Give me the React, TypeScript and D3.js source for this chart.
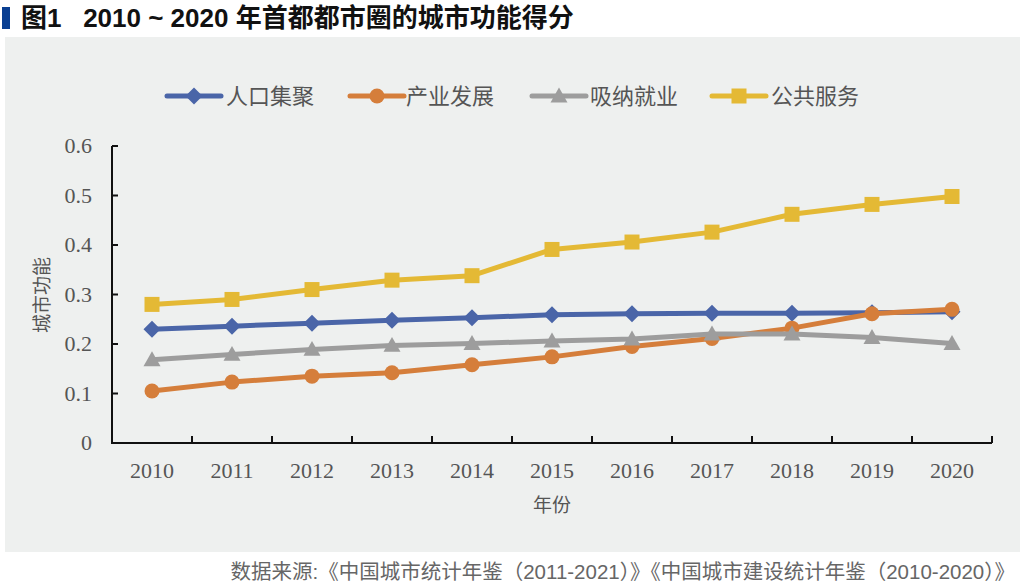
import React from "react";
import * as d3 from "d3";

const years = ["2010", "2011", "2012", "2013", "2014", "2015", "2016", "2017", "2018", "2019", "2020"];
const population = [0.23, 0.236, 0.242, 0.248, 0.253, 0.259, 0.261, 0.262, 0.262, 0.263, 0.265];
const industry = [0.105, 0.123, 0.135, 0.142, 0.158, 0.174, 0.195, 0.211, 0.232, 0.261, 0.27];
const employment = [0.168, 0.179, 0.189, 0.197, 0.201, 0.206, 0.21, 0.22, 0.22, 0.213, 0.201];
const publicService = [0.28, 0.29, 0.31, 0.329, 0.338, 0.391, 0.406, 0.426, 0.462, 0.482, 0.498];
const yTicks = [0, 0.1, 0.2, 0.3, 0.4, 0.5, 0.6];

const seriesNames = ["人口集聚", "产业发展", "吸纳就业", "公共服务"];
const seriesValues = [population, industry, employment, publicService];
const seriesColors = ["#4a65a8", "#d57e3b", "#9d9d9d", "#e4b935"];
const seriesShapes = ["diamond", "circle", "triangle", "square"];

const W = 1024;
const H = 588;

const x = d3.scaleBand<string>().domain(years).range([112, 992]).padding(0);
const y = d3.scaleLinear().domain([0, 0.6]).range([443, 146]);

function Marker({ shape, cx, cy, color }: { shape: string; cx: number; cy: number; color: string }) {
  if (shape === "diamond") {
    const s = 8.5;
    return <path d={`M${cx},${cy - s} L${cx + s},${cy} L${cx},${cy + s} L${cx - s},${cy} Z`} fill={color} />;
  }
  if (shape === "circle") return <circle cx={cx} cy={cy} r={7.5} fill={color} />;
  if (shape === "triangle") {
    const s = 8.5;
    return <path d={`M${cx},${cy - s} L${cx + s},${cy + s * 0.75} L${cx - s},${cy + s * 0.75} Z`} fill={color} />;
  }
  return <rect x={cx - 7.5} y={cy - 7.5} width={15} height={15} fill={color} />;
}

const legendItems = [
  { lineX: 167, textX: 226 },
  { lineX: 350, textX: 406 },
  { lineX: 532, textX: 590 },
  { lineX: 712, textX: 771 },
];

export default function App() {
  const line = d3
    .line<number>()
    .x((_, i) => (x(years[i]) as number) + x.bandwidth() / 2)
    .y((d) => y(d));
  const serif = "'Liberation Serif', 'DejaVu Serif', serif";
  const sans = "'Noto Sans CJK SC', 'Noto Sans', sans-serif";
  const mixed = "'Liberation Sans', 'Noto Sans CJK SC', sans-serif";
  return (
    <svg width={W} height={H} style={{ position: "absolute", left: 0, top: 0, background: "#fff" }}>
      <rect x={0} y={0} width={W} height={H} fill="#ffffff" />
      <rect x={2} y={7} width={8} height={22} fill="#0a3f92" />
      <text x={21} y={27} fontFamily={mixed} fontWeight="bold" fontSize={26} fill="#111" style={{ whiteSpace: "pre" }}>
        {"图1   2010 ~ 2020 年首都都市圈的城市功能得分"}
      </text>
      <rect x={5} y={37} width={1015} height={515} fill="#eef0ef" />

      {/* legend */}
      {seriesNames.map((name, i) => (
        <g key={name}>
          <line
            x1={legendItems[i].lineX}
            x2={legendItems[i].lineX + 54}
            y1={96}
            y2={96}
            stroke={seriesColors[i]}
            strokeWidth={5}
            strokeLinecap="round"
          />
          <Marker shape={seriesShapes[i]} cx={legendItems[i].lineX + 27} cy={96} color={seriesColors[i]} />
          <text x={legendItems[i].textX} y={104} fontFamily={sans} fontSize={22} fill="#555">
            {name}
          </text>
        </g>
      ))}

      {/* axes */}
      <line x1={112} x2={112} y1={146} y2={443} stroke="#111" strokeWidth={2} />
      <line x1={111} x2={992} y1={443} y2={443} stroke="#111" strokeWidth={2} />
      {yTicks.map((t) => (
        <g key={t}>
          <line x1={112} x2={118} y1={y(t)} y2={y(t)} stroke="#111" strokeWidth={2} />
          <text x={92} y={y(t) + 7} textAnchor="end" fontFamily={serif} fontSize={22} fill="#555">
            {t === 0 ? "0" : t.toFixed(1)}
          </text>
        </g>
      ))}
      {years.map((yr) => (
        <g key={yr}>
          <line
            x1={(x(yr) as number) + x.bandwidth()}
            x2={(x(yr) as number) + x.bandwidth()}
            y1={443}
            y2={436}
            stroke="#111"
            strokeWidth={2}
          />
          <text
            x={(x(yr) as number) + x.bandwidth() / 2}
            y={478}
            textAnchor="middle"
            fontFamily={serif}
            fontSize={22}
            fill="#555"
          >
            {yr}
          </text>
        </g>
      ))}
      <text x={552} y={512} textAnchor="middle" fontFamily={sans} fontSize={19} fill="#555">
        年份
      </text>
      <text
        transform={`translate(49,295) rotate(-90)`}
        textAnchor="middle"
        fontFamily={sans}
        fontSize={19}
        fill="#555"
      >
        城市功能
      </text>

      {/* series */}
      {seriesValues.map((vals, i) => (
        <g key={seriesNames[i]}>
          <path d={line(vals) || ""} fill="none" stroke={seriesColors[i]} strokeWidth={5} strokeLinejoin="round" />
          {vals.map((v, j) => (
            <Marker
              key={j}
              shape={seriesShapes[i]}
              cx={(x(years[j]) as number) + x.bandwidth() / 2}
              cy={y(v)}
              color={seriesColors[i]}
            />
          ))}
        </g>
      ))}

      <text x={1015} y={579} textAnchor="end" fontFamily={mixed} fontSize={20.5} fill="#666">
        数据来源:《中国城市统计年鉴（2011-2021）》《中国城市建设统计年鉴（2010-2020）》
      </text>
    </svg>
  );
}
